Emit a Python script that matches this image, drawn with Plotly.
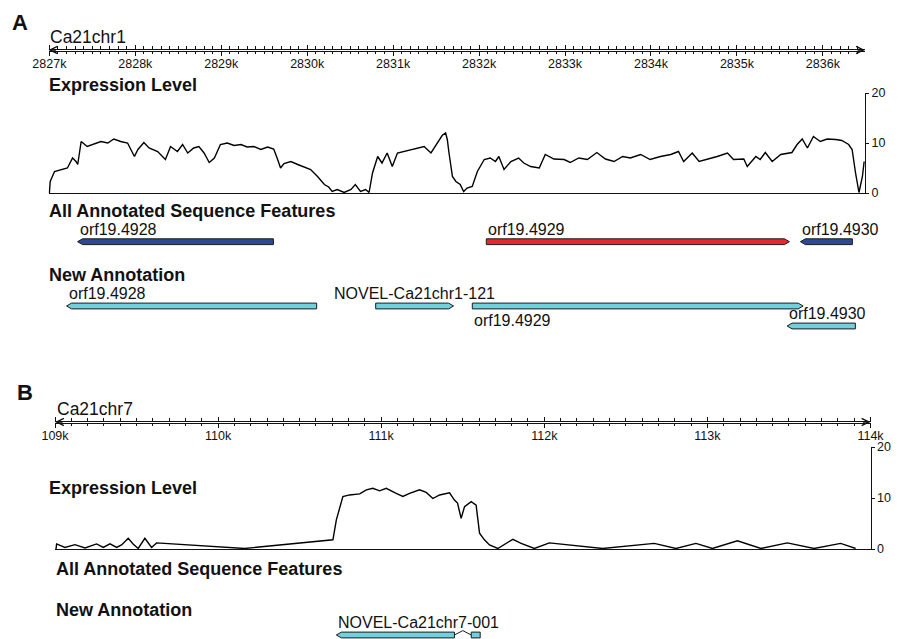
import plotly.graph_objects as go

W, H = 899, 639

# ---------------- Panel A data ----------------
a_chrom = "Ca21chr1"
a_range_kb = [2826.99, 2836.49]
a_tick_kb = [2827, 2828, 2829, 2830, 2831, 2832, 2833, 2834, 2835, 2836]
a_tick_text = ["2827k", "2828k", "2829k", "2830k", "2831k", "2832k", "2833k", "2834k", "2835k", "2836k"]

a_expr_kb = [
    2827.00, 2827.01, 2827.06, 2827.15, 2827.21, 2827.27, 2827.31, 2827.33, 2827.37, 2827.44,
    2827.50, 2827.56, 2827.60, 2827.68, 2827.75, 2827.83, 2827.91, 2827.99, 2828.03, 2828.10,
    2828.16, 2828.26, 2828.35, 2828.41, 2828.49, 2828.55, 2828.61, 2828.68, 2828.74, 2828.80,
    2828.86, 2828.92, 2828.99, 2829.07, 2829.15, 2829.23, 2829.30, 2829.38, 2829.46, 2829.54,
    2829.61, 2829.65, 2829.69, 2829.73, 2829.81, 2829.89, 2829.96, 2830.04, 2830.12, 2830.20,
    2830.25, 2830.29, 2830.35, 2830.43, 2830.51, 2830.56, 2830.62, 2830.68, 2830.72, 2830.76,
    2830.82, 2830.87, 2830.93, 2830.99, 2831.05, 2831.13, 2831.20, 2831.28, 2831.36, 2831.44,
    2831.51, 2831.57, 2831.61, 2831.63, 2831.65, 2831.69, 2831.73, 2831.78, 2831.82, 2831.86,
    2831.92, 2831.98, 2832.06, 2832.13, 2832.19, 2832.23, 2832.29, 2832.37, 2832.46, 2832.52,
    2832.60, 2832.70, 2832.77, 2832.87, 2832.99, 2833.06, 2833.16, 2833.26, 2833.37, 2833.47,
    2833.57, 2833.67, 2833.76, 2833.88, 2833.99, 2834.11, 2834.23, 2834.32, 2834.38, 2834.48,
    2834.56, 2834.65, 2834.77, 2834.89, 2834.96, 2835.08, 2835.12, 2835.22, 2835.27, 2835.33,
    2835.41, 2835.51, 2835.64, 2835.70, 2835.76, 2835.82, 2835.89, 2835.97, 2836.05, 2836.15,
    2836.22, 2836.30, 2836.34, 2836.38, 2836.42, 2836.46, 2836.48,
]
a_expr_val = [
    0, 2.3, 4.3, 4.7, 5, 7, 6.3, 5.7, 10.3, 9.3,
    9.7, 10, 10.3, 10, 10.8, 10.3, 10, 7.3, 8.7, 10.1,
    9, 8.3, 6.7, 9.3, 8.3, 9.7, 8, 9, 9.3, 8,
    6.1, 7, 9.7, 10, 9.5, 9.7, 9.2, 9.3, 8.7, 9.2,
    8.8, 7, 5, 5.9, 6.3, 5.7, 5.3, 4.7, 3.3, 1.7,
    1.2, 0.3, 0.7, 0.1, 0.7, 1.7, 0.3, 0.7, 0.1, 4,
    7.3, 6, 8, 5.3, 8, 8.3, 8.7, 9, 9.3, 8,
    10, 11.5, 12, 10.7, 8, 3.3, 2.3, 1.7, 0.3, 1,
    1.3, 4.3, 6.7, 7, 6.3, 7.3, 4.7, 6.3, 7, 6,
    5.3, 5, 7.7, 6.8, 6.7, 6.1, 7, 6.7, 8.1, 6.8,
    6.3, 7.3, 7, 7.7, 6.7, 7.3, 7.7, 8.3, 6.3, 8,
    6.3, 6.7, 7.3, 8, 6.7, 6.8, 5.3, 7.3, 6.7, 8.1,
    6.3, 7.7, 8.1, 9.7, 10.8, 9, 11.3, 10.3, 10.8, 10.7,
    10.5, 9.7, 8.7, 4, 0.1, 3.3, 6.3,
]

a_ann_names = ["orf19.4928", "orf19.4929", "orf19.4930"]
a_ann_start_kb = [2827.328, 2832.084, 2835.738]
a_ann_end_kb = [2829.607, 2835.611, 2836.343]
a_ann_strand = ["-", "+", "-"]

a_new_names = ["orf19.4928", "NOVEL-Ca21chr1-121", "orf19.4929", "orf19.4930"]
a_new_start_kb = [2827.200, 2830.797, 2831.921, 2835.584]
a_new_end_kb = [2830.110, 2831.703, 2835.770, 2836.378]
a_new_strand = ["-", "+", "+", "-"]
a_new_row = [0, 0, 0, 1]

# ---------------- Panel B data ----------------
b_chrom = "Ca21chr7"
b_range_kb = [109.0, 114.0]
b_tick_kb = [109, 110, 111, 112, 113, 114]
b_tick_text = ["109k", "110k", "111k", "112k", "113k", "114k"]

b_expr_kb = [
    109.006, 109.010, 109.061, 109.122, 109.184, 109.255, 109.296, 109.337, 109.378, 109.408,
    109.449, 109.479, 109.510, 109.551, 109.592, 109.623, 110.163, 110.704, 110.725, 110.765,
    110.806, 110.868, 110.909, 110.949, 110.990, 111.031, 111.092, 111.133, 111.174, 111.235,
    111.276, 111.317, 111.358, 111.399, 111.419, 111.449, 111.468, 111.490, 111.511, 111.552,
    111.582, 111.603, 111.633, 111.664, 111.715, 111.807, 111.858, 111.939, 112.031, 112.358,
    112.674, 112.807, 112.930, 113.031, 113.184, 113.328, 113.490, 113.654, 113.817, 113.909,
]
b_expr_val = [
    0, 1, 0.3, 0.85, 0.2, 1, 0.3, 1, 0.3, 0.8,
    2.1, 1, 0.1, 2.1, 0.3, 1.2, 0.1, 1.8, 5.7, 10.3,
    10.6, 10.8, 11.6, 11.9, 11.4, 11.9, 10.9, 10.3, 10.9, 11.6,
    11.1, 9.9, 10.6, 10.9, 11, 9.6, 9, 6, 8.3, 9.3,
    8.6, 3.1, 1.8, 0.8, 0.1, 1.9, 1.1, 0.1, 1.2, 0.1,
    1.1, 0.1, 1.1, 0.1, 1.6, 0.1, 1.2, 0.1, 1.1, 0.1,
]

b_new_name = "NOVEL-Ca21chr7-001"
b_new_exon_start_kb = [110.725, 111.552]
b_new_exon_end_kb = [111.449, 111.607]
b_new_strand = "-"

# ---------------- styling ----------------
FONT = "Liberation Sans, Arial, Helvetica, sans-serif"
BLUE = "#2f4896"
RED = "#e8262b"
CYAN = "#74cfdc"
EDGE = "#1c1c1c"
a_ann_colors = [BLUE, RED, BLUE]
HALF = 0.145  # half bar height in track units


def fx(px):
    return px / W


def fy(py):
    return 1 - py / H


def arrow_poly(s, e, strand, tip, row):
    if strand == "+":
        xs = [s, e - tip, e, e - tip, s, s]
        ys = [-HALF, -HALF, 0, HALF, HALF, -HALF]
    else:
        xs = [s, s + tip, e, e, s + tip, s]
        ys = [0, -HALF, -HALF, HALF, HALF, 0]
    return xs, [y - row for y in ys]


fig = go.Figure()

# Expression lines
fig.add_trace(go.Scatter(x=a_expr_kb, y=a_expr_val, mode="lines",
                         line=dict(color="black", width=1.4), xaxis="x2", yaxis="y2",
                         hoverinfo="skip"))
fig.add_trace(go.Scatter(x=b_expr_kb, y=b_expr_val, mode="lines",
                         line=dict(color="black", width=1.4), xaxis="x4", yaxis="y6",
                         hoverinfo="skip"))

annotations = []
TIP_A = 0.058
TIP_B = 0.031
LBL = dict(family=FONT, size=16, color="#111")

# Panel A annotated features
for name, s, e, st, col in zip(a_ann_names, a_ann_start_kb, a_ann_end_kb, a_ann_strand, a_ann_colors):
    xs, ys = arrow_poly(s, e, st, TIP_A, 0)
    fig.add_trace(go.Scatter(x=xs, y=ys, mode="lines", fill="toself", fillcolor=col,
                             line=dict(color=EDGE, width=1), xaxis="x2", yaxis="y3",
                             hoverinfo="skip"))
    annotations.append(dict(x=s, y=HALF, xref="x2", yref="y3", text=name, showarrow=False,
                            xanchor="left", yanchor="bottom", yshift=-1, font=LBL))

# Panel A new annotation
label_mode = ["left-above", "center-above", "left-below", "left-above"]
for name, s, e, st, row, mode in zip(a_new_names, a_new_start_kb, a_new_end_kb, a_new_strand,
                                     a_new_row, label_mode):
    xs, ys = arrow_poly(s, e, st, TIP_A, row)
    fig.add_trace(go.Scatter(x=xs, y=ys, mode="lines", fill="toself", fillcolor=CYAN,
                             line=dict(color=EDGE, width=1), xaxis="x2", yaxis="y4",
                             hoverinfo="skip"))
    if mode == "left-above":
        annotations.append(dict(x=s, y=HALF - row, xref="x2", yref="y4", text=name,
                                showarrow=False, xanchor="left", yanchor="bottom", yshift=-1,
                                font=LBL))
    elif mode == "center-above":
        annotations.append(dict(x=(s + e) / 2, y=HALF - row, xref="x2", yref="y4", text=name,
                                showarrow=False, xanchor="center", yanchor="bottom", yshift=-1,
                                font=LBL))
    else:
        annotations.append(dict(x=s, y=-HALF - row, xref="x2", yref="y4", text=name,
                                showarrow=False, xanchor="left", yanchor="top", yshift=-1,
                                font=LBL))

# Panel B new annotation (two exons + intron caret)
for i, (s, e) in enumerate(zip(b_new_exon_start_kb, b_new_exon_end_kb)):
    if i == 0:
        xs, ys = arrow_poly(s, e, b_new_strand, TIP_B, 0)
    else:
        xs = [s, e, e, s, s]
        ys = [-HALF, -HALF, HALF, HALF, -HALF]
    fig.add_trace(go.Scatter(x=xs, y=ys, mode="lines", fill="toself", fillcolor=CYAN,
                             line=dict(color=EDGE, width=1), xaxis="x4", yaxis="y7",
                             hoverinfo="skip"))
i_s, i_e = b_new_exon_end_kb[0], b_new_exon_start_kb[1]
fig.add_trace(go.Scatter(x=[i_s, (i_s + i_e) / 2, i_e], y=[0, 0.22, 0], mode="lines",
                         line=dict(color=EDGE, width=1), xaxis="x4", yaxis="y7",
                         hoverinfo="skip"))
annotations.append(dict(x=b_new_exon_start_kb[0], y=HALF, xref="x4", yref="y7", text=b_new_name,
                        showarrow=False, xanchor="left", yanchor="bottom", yshift=-1, font=LBL))

# Ruler arrowheads
for xa, ya, rng in [("x", "y", a_range_kb), ("x3", "y5", b_range_kb)]:
    annotations.append(dict(x=rng[1], y=0.5, xref=xa, yref=ya, ax=-9, ay=0, text="",
                            showarrow=True, arrowhead=5, arrowsize=1.1, arrowwidth=1.3,
                            arrowcolor="#111"))
    annotations.append(dict(x=rng[0], y=0.5, xref=xa, yref=ya, ax=9, ay=0, text="",
                            showarrow=True, arrowhead=5, arrowsize=1.1, arrowwidth=1.3,
                            arrowcolor="#111"))


# Headers / text
def hdr(text, px, py, size, bold=False):
    t = f"<b>{text}</b>" if bold else text
    annotations.append(dict(x=fx(px), y=fy(py), xref="paper", yref="paper", text=t,
                            showarrow=False, xanchor="left", yanchor="middle",
                            font=dict(family=FONT, size=size, color="#111")))


hdr("A", 10, 22.5, 22, True)
hdr(a_chrom, 48, 36.5, 17.5)
hdr("Expression Level", 47, 84.5, 18, True)
hdr("All Annotated Sequence Features", 47, 211, 18, True)
hdr("New Annotation", 47, 274.5, 18, True)
hdr("B", 15, 392.5, 22, True)
hdr(b_chrom, 55, 408.5, 17.5)
hdr("Expression Level", 47, 487.5, 18, True)
hdr("All Annotated Sequence Features", 54, 569, 18, True)
hdr("New Annotation", 54, 610, 18, True)

hidden_y = dict(visible=False, showgrid=False, zeroline=False, fixedrange=True)
ruler_common = dict(showline=True, linecolor="#111", linewidth=1, mirror="allticks",
                    ticks="outside", ticklen=4, tickwidth=1, tickcolor="#111",
                    showgrid=False, zeroline=False, automargin=False, ticklabelstandoff=-3,
                    tickfont=dict(family=FONT, size=12.5, color="#111"))
data_x_common = dict(showline=True, linecolor="#111", linewidth=1.3, ticks="",
                     showticklabels=False, showgrid=False, zeroline=False, automargin=False)
expr_y_common = dict(range=[0, 20], side="right", showline=True, linecolor="#111", linewidth=1.2,
                     ticks="outside", ticklen=3, tickcolor="#111", tickvals=[0, 10, 20],
                     showgrid=False, zeroline=False, automargin=False,
                     tickfont=dict(family=FONT, size=12.5, color="#111"))

A_X = [fx(48.5), fx(865)]
B_X = [fx(55), fx(870.5)]

fig.update_layout(
    width=W, height=H, autosize=False,
    margin=dict(l=0, r=0, t=0, b=0, pad=0, autoexpand=False),
    paper_bgcolor="white", plot_bgcolor="rgba(0,0,0,0)", showlegend=False,
    annotations=annotations,
    # Panel A ruler
    xaxis=dict(domain=A_X, range=a_range_kb, anchor="y", tickmode="array", tickvals=a_tick_kb,
               ticktext=a_tick_text,
               minor=dict(tick0=2827, dtick=0.1, ticks="outside", ticklen=2.5, tickcolor="#111"),
               **ruler_common),
    yaxis=dict(domain=[fy(50.5), fy(49.5)], range=[0, 1], anchor="x", **hidden_y),
    # Panel A data
    xaxis2=dict(domain=A_X, range=a_range_kb, anchor="y2", **data_x_common),
    yaxis2=dict(domain=[fy(193), fy(93)], anchor="x2", **expr_y_common),
    yaxis3=dict(domain=[fy(251.7), fy(231.7)], range=[-0.5, 0.5], anchor="x2", **hidden_y),
    yaxis4=dict(domain=[fy(336), fy(296)], range=[-1.5, 0.5], anchor="x2", **hidden_y),
    # Panel B ruler
    xaxis3=dict(domain=B_X, range=b_range_kb, anchor="y5", tickmode="array", tickvals=b_tick_kb,
                ticktext=b_tick_text,
                minor=dict(tick0=109, dtick=0.1, ticks="outside", ticklen=2.5, tickcolor="#111"),
                **ruler_common),
    yaxis5=dict(domain=[fy(422.5), fy(421.5)], range=[0, 1], anchor="x3", **hidden_y),
    # Panel B data
    xaxis4=dict(domain=B_X, range=b_range_kb, anchor="y6", **data_x_common),
    yaxis6=dict(domain=[fy(549), fy(447)], anchor="x4", **expr_y_common),
    yaxis7=dict(domain=[fy(639), fy(627)], range=[-0.2, 0.4], anchor="x4", **hidden_y),
)

# invisible anchors to create the ruler subplots
fig.add_trace(go.Scatter(x=[a_range_kb[0]], y=[0.5], mode="markers", marker=dict(opacity=0),
                         xaxis="x", yaxis="y", hoverinfo="skip"))
fig.add_trace(go.Scatter(x=[b_range_kb[0]], y=[0.5], mode="markers", marker=dict(opacity=0),
                         xaxis="x3", yaxis="y5", hoverinfo="skip"))

fig.write_html("out.html", config={"displayModeBar": False},
               post_script="document.body.style.margin='0';document.body.style.overflow='hidden';")
